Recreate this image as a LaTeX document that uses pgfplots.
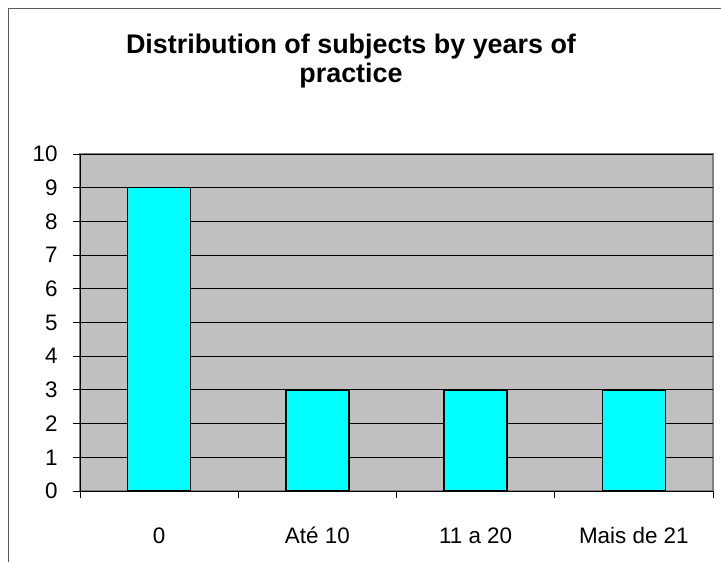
\documentclass[border=0pt]{standalone}
\usepackage{pgfplots}
\pgfplotsset{compat=1.18}
\usepackage{fontspec}
\setmainfont{Liberation Sans}
\definecolor{plotgray}{RGB}{192,192,192}
\definecolor{edgegray}{RGB}{128,128,128}
\definecolor{barcyan}{RGB}{0,255,255}
\begin{document}
\begin{tikzpicture}
  % page frame (reference shows only top and left edges)
  \useasboundingbox (-80bp,-71bp) rectangle (641bp,491bp);
  \draw[edgegray!70!black, line width=0.9bp] (-72bp,-71bp) -- (-72bp,483bp) -- (641bp,483bp);
  \begin{axis}[
      at={(0,0)}, anchor=south west,
      scale only axis,
      width=633bp, height=337bp,
      xmin=-0.5, xmax=3.5,
      ymin=0, ymax=10,
      ytick={0,1,...,10},
      xtick={0,1,2,3},
      xticklabels={0, Até 10, 11 a 20, Mais de 21},
      minor xtick={-0.5,0.5,1.5,2.5,3.5},
      major x tick style={draw=none},
      axis lines*=left,
      axis line style={-, black, line width=0.9bp},
      tick style={black, line width=0.9bp},
      tick align=outside,
      major tick length=7bp,
      minor tick length=7bp,
      ymajorgrids=true,
      grid style={black, line width=0.9bp},
      axis background/.style={fill=plotgray, draw=edgegray, line width=1.5bp},
      ticklabel style={font=\fontsize{22.5}{26}\selectfont},
      /pgf/number format/assume math mode=true,
      xticklabel style={anchor=base, yshift=-45bp},
      yticklabel style={xshift=-12bp},
      ybar, bar width=63bp,
    ]
    \addplot[fill=barcyan, draw=black, line width=1.3bp]
      coordinates {(0,9) (1,3) (2,3) (3,3)};
  \end{axis}
  \node[align=center, font=\bfseries\fontsize{27}{30}\selectfont] at (271bp,430bp)
    {Distribution of subjects by years of\\practice};
\end{tikzpicture}
\end{document}
